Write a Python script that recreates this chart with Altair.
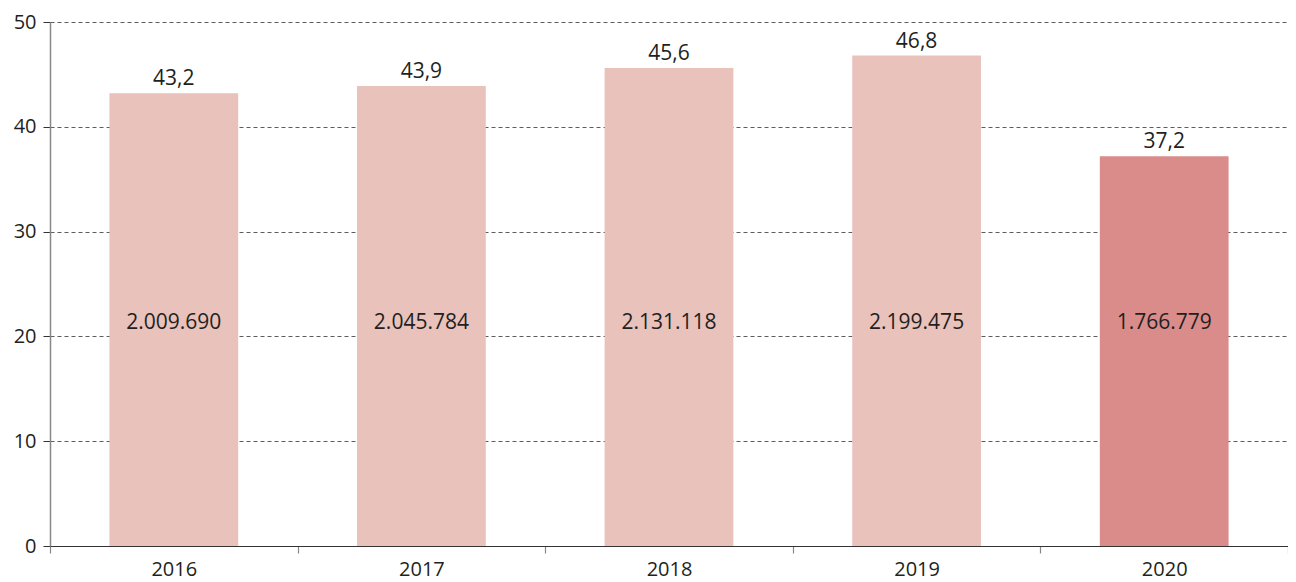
import altair as alt
import pandas as pd

years = ["2016", "2017", "2018", "2019", "2020"]
values = [43.2, 43.9, 45.6, 46.8, 37.2]
top_labels = ["43,2", "43,9", "45,6", "46,8", "37,2"]
inner_labels = ["2.009.690", "2.045.784", "2.131.118", "2.199.475", "1.766.779"]
highlight = ["base", "base", "base", "base", "hi"]

df = pd.DataFrame({
    "year": years,
    "value": values,
    "top": top_labels,
    "inner": inner_labels,
    "grp": highlight,
})

FONT = "Open Sans"
FS = 21
TXT = "#231f20"

x = alt.X(
    "year:N",
    title=None,
    scale=alt.Scale(paddingInner=0, paddingOuter=0),
    axis=alt.Axis(
        labelAngle=0, labelFontSize=FS - 1, labelColor=TXT, labelFont=FONT,
        domainColor="#333333", tickColor="#888888", tickSize=7, tickBand="extent",
        labelPadding=6, grid=False, domainWidth=1.2, tickWidth=1.2,
    ),
)

bars = alt.Chart(df).mark_bar(width=alt.RelativeBandSize(0.52)).encode(
    x=x,
    y=alt.Y(
        "value:Q", title=None,
        scale=alt.Scale(domain=[0, 50], nice=False),
        axis=alt.Axis(
            values=[0, 10, 20, 30, 40, 50], labelFontSize=FS - 1, labelFont=FONT,
            labelColor=TXT, domainColor="#888888", domainWidth=1.5,
            tickColor="#333333", tickSize=7, labelPadding=7,
            grid=True, gridColor="#333333", gridDash=[4, 3], gridWidth=0.8,
        ),
    ),
    color=alt.Color("grp:N", scale=alt.Scale(domain=["base", "hi"], range=["#E9C2BC", "#DA8C8B"]), legend=None),
)

top_text = alt.Chart(df).mark_text(dy=-14, fontSize=FS, font=FONT, color=TXT).encode(
    x=alt.X("year:N"),
    y=alt.Y("value:Q"),
    text="top:N",
)

inner_text = alt.Chart(df).mark_text(fontSize=FS, font=FONT, color=TXT).encode(
    x=alt.X("year:N"),
    y=alt.datum(21.3),
    text="inner:N",
)

chart = alt.layer(bars, top_text, inner_text).properties(
    width=1238, height=524,
    autosize=alt.AutoSizeParams(type="none"),
    padding={"left": 42, "top": 14, "right": 0, "bottom": 36},
).configure_view(stroke=None).configure_axis(grid=False)

chart.save("out.html", embed_options={"renderer": "svg", "actions": False})
